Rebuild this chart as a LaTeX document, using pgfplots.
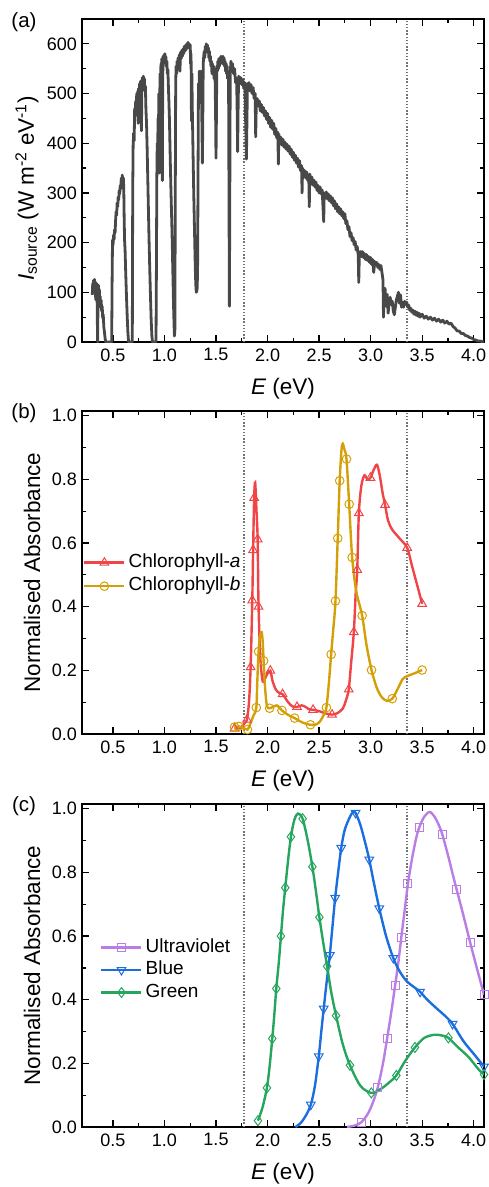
\documentclass[border=0pt]{standalone}
\usepackage{fontspec}
\setmainfont{Liberation Sans}
\usepackage{pgfplots}
\pgfplotsset{compat=1.18}
\definecolor{cura}{RGB}{240,68,70}
\definecolor{curb}{RGB}{212,160,8}
\definecolor{cuv}{RGB}{185,125,230}
\definecolor{cblue}{RGB}{28,110,222}
\definecolor{cgreen}{RGB}{38,165,95}
\definecolor{csun}{RGB}{72,72,72}
\definecolor{cdot}{RGB}{115,115,115}
\newcommand\fs[1]{\fontsize{#1}{#1}\selectfont}
\pgfplotsset{
  common/.style={
    scale only axis, width=402pt, height=323pt,
    xmin=0.2, xmax=4.1,
    xtick={0.5,1.0,1.5,2.0,2.5,3.0,3.5,4.0},
    minor x tick num=1, minor y tick num=1,
    tick align=inside, tick pos=both,
    major tick length=7pt, minor tick length=4pt,
    major tick style={line width=1.2pt, black},
    minor tick style={line width=1.2pt, black},
    axis line style={line width=1.4pt},
    /pgf/number format/assume math mode=true,
    tick label style={font=\fs{18}},
    x tick label style={/pgf/number format/.cd, fixed, fixed zerofill, precision=1, /tikz/.cd, yshift=-3pt},
    y tick label style={xshift=-1.5pt},
    label style={font=\fs{22.5}},
    xlabel={\textit{E} (eV)},
    xlabel style={at={(axis description cs:0.5,-0.143)}, anchor=center},
    legend cell align=left,
    legend image code/.code={\draw[mark repeat=2,mark phase=2,##1] plot coordinates {(0pt,0pt) (20pt,0pt) (40pt,0pt)};},
  },
  absax/.style={
    ymin=0, ymax=1.015,
    ytick={0,0.2,0.4,0.6,0.8,1.0},
    y tick label style={/pgf/number format/.cd, fixed, fixed zerofill, precision=1},
    ylabel={Normalised Absorbance},
    ylabel style={at={(axis description cs:-0.124,0.5)}, anchor=center},
  },
  vdot/.style={forget plot, cdot, line width=1.8pt, dash pattern=on 1.5pt off 1.7pt},
}
\begin{document}
\begin{tikzpicture}
\path[use as bounding box] (0pt,0pt) rectangle (489pt,-1187pt);
% ---------------- (a)
\begin{axis}[common, at={(82pt,-342pt)}, anchor=south west,
  ymin=0, ymax=650, ytick={0,100,200,300,400,500,600},
  ylabel={\textit{I}\textsubscript{source} (W m\textsuperscript{-2} eV\textsuperscript{-1})},
  ylabel style={at={(axis description cs:-0.137,0.475)}, anchor=center}]
\addplot[vdot] coordinates {(1.771,0) (1.771,650)};
\addplot[vdot] coordinates {(3.351,0) (3.351,650)};
\addplot[forget plot, csun, line width=2.8pt, line join=round] table {
x y
0.300 95
0.304 118
0.308 102
0.312 124
0.317 110
0.321 126
0.325 104
0.329 121
0.333 85
0.337 119
0.341 108
0.345 117
0.349 40
0.352 0
0.356 110
0.360 114
0.364 95
0.368 106
0.372 80
0.376 92
0.381 70
0.386 84
0.391 62
0.396 72
0.401 48
0.406 55
0.412 30
0.418 20
0.424 8
0.430 0
0.488 0
0.492 120
0.496 205
0.501 195
0.506 215
0.511 206
0.516 226
0.521 220
0.526 245
0.531 262
0.536 255
0.541 280
0.546 272
0.551 292
0.556 286
0.561 305
0.566 298
0.571 315
0.576 308
0.581 330
0.586 322
0.591 336
0.596 318
0.601 330
0.605 312
0.609 250
0.613 205
0.618 185
0.624 140
0.631 95
0.638 55
0.645 20
0.652 0
0.688 0
0.692 300
0.696 395
0.701 420
0.706 405
0.711 470
0.716 455
0.721 485
0.726 470
0.731 500
0.736 478
0.741 505
0.745 440
0.749 510
0.754 495
0.759 520
0.764 505
0.769 525
0.773 460
0.777 425
0.781 520
0.786 532
0.790 515
0.795 535
0.800 520
0.805 530
0.810 505
0.815 515
0.820 470
0.826 440
0.832 390
0.838 330
0.844 270
0.850 210
0.857 150
0.864 95
0.871 45
0.878 12
0.884 0
0.918 0
0.922 150
0.926 330
0.930 400
0.934 380
0.938 450
0.942 430
0.946 500
0.950 340
0.954 490
0.958 540
0.962 520
0.966 560
0.970 545
0.974 570
0.977 500
0.980 325
0.983 530
0.987 575
0.991 560
0.995 578
0.999 565
1.004 580
1.008 568
1.013 575
1.018 555
1.023 565
1.028 540
1.033 548
1.038 515
1.043 485
1.048 450
1.053 400
1.058 350
1.063 305
1.068 265
1.073 225
1.078 175
1.083 125
1.088 75
1.093 35
1.097 12
1.101 25
1.105 300
1.109 520
1.113 555
1.118 540
1.123 565
1.128 555
1.133 572
1.138 560
1.144 578
1.150 545
1.156 583
1.162 570
1.168 587
1.174 575
1.180 590
1.186 580
1.192 595
1.198 585
1.204 597
1.210 588
1.216 600
1.222 592
1.228 603
1.234 595
1.240 600
1.246 590
1.250 598
1.254 560
1.258 580
1.262 445
1.266 540
1.270 470
1.274 420
1.279 360
1.284 300
1.289 250
1.294 200
1.299 150
1.304 115
1.309 100
1.314 103
1.318 110
1.322 160
1.326 350
1.330 520
1.334 480
1.338 545
1.342 500
1.346 535
1.350 515
1.354 545
1.358 530
1.364 430
1.368 360
1.372 450
1.376 560
1.381 575
1.386 585
1.391 572
1.396 595
1.401 585
1.406 600
1.411 588
1.416 598
1.421 582
1.426 592
1.431 572
1.436 585
1.441 565
1.446 575
1.451 555
1.456 565
1.461 540
1.466 560
1.471 545
1.476 555
1.481 530
1.486 548
1.491 535
1.496 460
1.500 370
1.504 450
1.508 555
1.513 545
1.518 565
1.523 550
1.528 570
1.533 555
1.538 572
1.543 560
1.548 575
1.553 562
1.558 574
1.563 560
1.568 575
1.573 565
1.578 572
1.583 555
1.588 565
1.593 545
1.598 560
1.603 540
1.608 555
1.613 530
1.618 545
1.622 520
1.626 300
1.630 72
1.634 300
1.638 540
1.645 565
1.650 550
1.660 560
1.670 540
1.680 550
1.690 522
1.700 530
1.705 470
1.710 383
1.715 480
1.720 535
1.730 520
1.740 532
1.750 518
1.760 528
1.770 510
1.780 522
1.785 470
1.790 420
1.795 368
1.800 440
1.805 520
1.810 508
1.820 522
1.830 505
1.840 518
1.850 500
1.860 512
1.870 490
1.880 500
1.885 413
1.890 470
1.900 490
1.910 475
1.920 485
1.930 465
1.940 478
1.950 462
1.960 472
1.970 455
1.980 465
1.990 448
2.000 460
2.010 440
2.020 452
2.030 432
2.040 446
2.050 428
2.060 440
2.070 418
2.080 430
2.090 410
2.100 422
2.105 358
2.110 418
2.120 400
2.130 412
2.140 396
2.150 408
2.160 392
2.170 402
2.180 388
2.190 398
2.200 384
2.210 394
2.220 378
2.230 388
2.240 372
2.250 382
2.260 366
2.270 376
2.280 360
2.290 370
2.300 352
2.310 365
2.320 345
2.330 355
2.335 300
2.340 350
2.350 335
2.360 345
2.370 330
2.380 342
2.390 325
2.400 335
2.405 272
2.410 338
2.420 322
2.430 332
2.440 316
2.450 326
2.460 312
2.470 322
2.480 305
2.490 315
2.500 300
2.510 312
2.520 298
2.530 306
2.545 242
2.550 300
2.560 292
2.570 302
2.580 288
2.590 298
2.600 284
2.610 294
2.620 280
2.630 290
2.640 274
2.650 284
2.660 268
2.670 278
2.680 262
2.690 272
2.700 258
2.710 268
2.720 254
2.730 262
2.740 248
2.750 258
2.760 238
2.770 244
2.780 226
2.790 232
2.800 212
2.810 220
2.820 204
2.830 210
2.840 196
2.850 202
2.860 185
2.870 192
2.880 175
2.885 120
2.890 170
2.900 182
2.910 172
2.920 182
2.930 170
2.940 178
2.950 166
2.960 176
2.970 164
2.980 172
2.990 160
3.000 170
3.010 156
3.020 166
3.030 140
3.040 162
3.050 155
3.060 160
3.070 150
3.080 156
3.090 146
3.100 154
3.110 140
3.120 125
3.125 50
3.130 100
3.140 108
3.150 72
3.160 96
3.170 58
3.180 80
3.190 90
3.200 75
3.210 82
3.220 62
3.230 55
3.240 70
3.250 85
3.260 92
3.270 100
3.280 78
3.290 95
3.300 70
3.310 80
3.320 70
3.330 82
3.340 76
3.350 80
3.360 70
3.370 74
3.380 64
3.390 68
3.400 60
3.410 64
3.420 56
3.430 62
3.440 54
3.450 60
3.460 52
3.470 58
3.480 50
3.500 56
3.520 48
3.540 52
3.560 46
3.580 50
3.600 44
3.620 48
3.640 42
3.660 46
3.680 40
3.700 44
3.720 38
3.740 42
3.760 36
3.780 38
3.800 31
3.820 28
3.840 22
3.860 22
3.880 17
3.900 17
3.920 13
3.940 12
3.960 9
3.980 8
4.000 5
4.020 4
4.040 2
4.060 2
4.080 1
4.100 0
};
\end{axis}
% ---------------- (b)
\begin{axis}[common, absax, at={(82pt,-734pt)}, anchor=south west,
  legend style={draw=none, fill=none, inner sep=0pt, row sep=6pt, font=\fs{19},
    nodes={inner xsep=3pt, inner ysep=0pt, text height=13.5pt, text depth=4pt},
    at={(axis description cs:0.0025,0.494)}, anchor=west}]
\addlegendimage{cura, line width=2.4pt, mark=triangle, mark size=5pt, mark options={solid, fill=white, line width=1pt}}
\addlegendentry{Chlorophyll-\textit{a}}
\addlegendimage{curb, line width=2.4pt, mark=o, mark size=4.3pt, mark options={solid, fill=white, line width=1pt}}
\addlegendentry{Chlorophyll-\textit{b}}
\addplot[vdot] coordinates {(1.771,0) (1.771,1.015)};
\addplot[vdot] coordinates {(3.351,0) (3.351,1.015)};
\addplot[forget plot, cura, line width=2.4pt, smooth, tension=0.5] coordinates {
(1.68,0.015)(1.74,0.02)(1.78,0.035)(1.80,0.045)(1.82,0.10)(1.836,0.21)(1.852,0.42)(1.860,0.578)(1.870,0.742)(1.880,0.79)(1.893,0.70)(1.904,0.612)(1.913,0.40)(1.93,0.24)(1.95,0.17)(1.965,0.168)(2.00,0.19)(2.027,0.199)(2.05,0.165)(2.08,0.14)(2.11,0.13)(2.146,0.125)(2.20,0.10)(2.24,0.087)(2.286,0.085)(2.33,0.09)(2.37,0.085)(2.40,0.078)(2.442,0.076)(2.50,0.072)(2.56,0.065)(2.626,0.061)(2.68,0.066)(2.73,0.08)(2.76,0.105)(2.788,0.14)(2.81,0.22)(2.837,0.32)(2.855,0.44)(2.870,0.516)(2.886,0.694)(2.91,0.78)(2.94,0.813)(2.97,0.80)(2.998,0.805)(3.03,0.83)(3.062,0.846)(3.09,0.81)(3.115,0.76)(3.14,0.72)(3.17,0.67)(3.21,0.642)(3.28,0.615)(3.355,0.585)(3.40,0.53)(3.45,0.47)(3.50,0.409)};
\addplot[forget plot, only marks, mark=triangle, mark size=5pt, mark options={draw=cura, fill=white, line width=1pt}] coordinates {
(1.68,0.017)(1.80,0.045)(1.836,0.21)(1.852,0.42)(1.860,0.578)(1.870,0.742)(1.904,0.612)(1.913,0.40)(2.027,0.199)(2.146,0.125)(2.286,0.085)(2.442,0.076)(2.626,0.061)(2.788,0.14)(2.837,0.32)(2.870,0.516)(2.886,0.694)(2.998,0.805)(3.14,0.72)(3.355,0.585)(3.50,0.409)};
\addplot[forget plot, curb, line width=2.4pt, smooth, tension=0.5] coordinates {
(1.68,0.022)(1.72,0.024)(1.76,0.02)(1.805,0.014)(1.83,0.03)(1.86,0.055)(1.891,0.083)(1.90,0.16)(1.913,0.259)(1.928,0.31)(1.943,0.32)(1.953,0.29)(1.962,0.23)(1.975,0.15)(1.994,0.088)(2.02,0.081)(2.05,0.085)(2.09,0.09)(2.115,0.083)(2.14,0.074)(2.20,0.06)(2.263,0.05)(2.34,0.036)(2.416,0.029)(2.47,0.03)(2.51,0.04)(2.545,0.06)(2.571,0.083)(2.595,0.16)(2.617,0.25)(2.638,0.33)(2.659,0.418)(2.681,0.615)(2.70,0.796)(2.718,0.895)(2.73,0.912)(2.745,0.895)(2.766,0.864)(2.792,0.722)(2.821,0.555)(2.86,0.45)(2.918,0.372)(2.96,0.28)(3.009,0.201)(3.06,0.145)(3.11,0.115)(3.16,0.104)(3.21,0.111)(3.26,0.14)(3.31,0.172)(3.355,0.182)(3.42,0.19)(3.50,0.201)};
\addplot[forget plot, only marks, mark=o, mark size=4.3pt, mark options={draw=curb, fill=white, line width=1pt}] coordinates {
(1.68,0.022)(1.72,0.024)(1.805,0.014)(1.891,0.083)(1.913,0.259)(1.962,0.23)(2.02,0.081)(2.14,0.074)(2.263,0.05)(2.416,0.029)(2.571,0.083)(2.617,0.25)(2.659,0.418)(2.681,0.615)(2.70,0.796)(2.766,0.864)(2.792,0.722)(2.821,0.555)(2.918,0.372)(3.009,0.201)(3.21,0.111)(3.50,0.201)};
\end{axis}
% ---------------- (c)
\begin{axis}[common, absax, at={(82pt,-1127pt)}, anchor=south west,
  legend style={draw=none, fill=none, inner sep=0pt, row sep=5pt, font=\fs{19},
    nodes={inner xsep=3pt, inner ysep=0pt, text height=13.5pt, text depth=4pt},
    at={(axis description cs:0.045,0.486)}, anchor=west}]
\addlegendimage{cuv, line width=2.4pt, mark=square, mark size=4pt, mark options={solid, fill=white, line width=1pt}}
\addlegendentry{Ultraviolet}
\addlegendimage{cblue, line width=2.4pt, mark=triangle, mark size=5pt, mark options={solid, rotate=180, fill=white, line width=1pt}}
\addlegendentry{Blue}
\addlegendimage{cgreen, line width=2.4pt, mark=diamond, mark size=5pt, mark options={solid, fill=white, line width=1pt}}
\addlegendentry{Green}
\addplot[vdot] coordinates {(1.771,0) (1.771,1.015)};
\addplot[vdot] coordinates {(3.351,0) (3.351,1.015)};
\addplot[forget plot, cuv, line width=2.4pt, smooth, tension=0.5] coordinates {
(2.77,0.0)(2.85,0.005)(2.91,0.015)(2.97,0.04)(3.02,0.075)(3.07,0.125)(3.12,0.2)(3.16,0.278)(3.20,0.36)(3.238,0.445)(3.27,0.52)(3.297,0.594)(3.33,0.68)(3.362,0.764)(3.40,0.84)(3.44,0.905)(3.47,0.94)(3.52,0.975)(3.573,0.99)(3.62,0.975)(3.66,0.95)(3.696,0.919)(3.75,0.855)(3.80,0.79)(3.835,0.746)(3.90,0.665)(3.965,0.581)(4.03,0.50)(4.10,0.416)};
\addplot[forget plot, only marks, mark=square, mark size=4pt, mark options={draw=cuv, fill=white, line width=1pt}] coordinates {
(2.91,0.015)(3.07,0.125)(3.16,0.278)(3.238,0.445)(3.297,0.594)(3.362,0.764)(3.47,0.94)(3.696,0.919)(3.835,0.746)(3.965,0.581)(4.10,0.416)};
\addplot[forget plot, cblue, line width=2.4pt, smooth, tension=0.5] coordinates {
(2.27,0.0)(2.32,0.012)(2.37,0.035)(2.42,0.07)(2.46,0.13)(2.497,0.222)(2.52,0.295)(2.545,0.372)(2.575,0.46)(2.604,0.54)(2.63,0.63)(2.656,0.72)(2.685,0.80)(2.715,0.877)(2.75,0.935)(2.80,0.975)(2.83,0.99)(2.854,0.987)(2.90,0.95)(2.95,0.89)(2.987,0.84)(3.03,0.77)(3.084,0.687)(3.15,0.60)(3.22,0.531)(3.28,0.49)(3.35,0.458)(3.42,0.44)(3.48,0.425)(3.55,0.40)(3.65,0.37)(3.72,0.35)(3.795,0.324)(3.90,0.27)(4.00,0.23)(4.10,0.19)};
\addplot[forget plot, only marks, mark=triangle, mark size=5pt, mark options={rotate=180, draw=cblue, fill=white, line width=1pt}] coordinates {
(2.42,0.07)(2.497,0.222)(2.545,0.372)(2.604,0.54)(2.656,0.72)(2.715,0.877)(2.854,0.987)(2.987,0.84)(3.084,0.687)(3.22,0.531)(3.48,0.425)(3.795,0.324)(4.10,0.19)};
\addplot[forget plot, cgreen, line width=2.4pt, smooth, tension=0.5] coordinates {
(1.907,0.02)(1.95,0.06)(1.994,0.123)(2.02,0.19)(2.046,0.278)(2.065,0.35)(2.085,0.435)(2.11,0.52)(2.13,0.60)(2.15,0.68)(2.172,0.752)(2.20,0.84)(2.227,0.912)(2.26,0.965)(2.295,0.985)(2.34,0.969)(2.39,0.90)(2.435,0.818)(2.47,0.74)(2.503,0.659)(2.54,0.58)(2.578,0.505)(2.62,0.42)(2.665,0.35)(2.73,0.26)(2.80,0.194)(2.90,0.13)(3.007,0.107)(3.10,0.12)(3.18,0.14)(3.25,0.162)(3.34,0.21)(3.43,0.25)(3.52,0.28)(3.62,0.29)(3.70,0.287)(3.755,0.28)(3.85,0.25)(3.95,0.22)(4.05,0.18)(4.10,0.165)};
\addplot[forget plot, only marks, mark=diamond, mark size=5pt, mark options={draw=cgreen, fill=white, line width=1pt}] coordinates {
(1.907,0.02)(1.994,0.123)(2.046,0.278)(2.085,0.435)(2.13,0.60)(2.172,0.752)(2.227,0.912)(2.34,0.969)(2.435,0.818)(2.503,0.659)(2.578,0.505)(2.665,0.35)(2.80,0.194)(3.007,0.107)(3.25,0.162)(3.43,0.25)(3.755,0.28)(4.10,0.165)};
\end{axis}
\node[font=\fs{20.5}] at (24pt,-22pt) {(a)};
\node[font=\fs{20.5}] at (24pt,-413pt) {(b)};
\node[font=\fs{20.5}] at (24pt,-806pt) {(c)};
\end{tikzpicture}
\end{document}
